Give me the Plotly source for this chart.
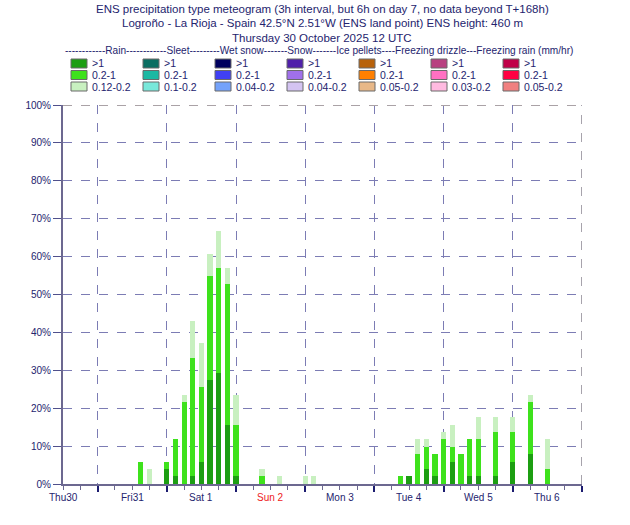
import numpy as np
import plotly.graph_objects as go

# ---------------- data ----------------
# hours since Thursday 30 October 2025 12 UTC (valid time of each bar)
hours = [27, 30, 36, 39, 42, 45, 48, 51, 54, 57, 60, 69, 75, 84, 87,
         117, 120, 123, 126, 129, 132, 135, 138, 141, 144, 150, 156, 162, 168]
# cumulative probability (%) of rain rate > 1, > 0.2 and > 0.12 mm/hr
rain_gt1 = [0, 0, 3.9, 2.0, 0, 2.0, 5.9, 27.5, 29.4, 15.7, 2.0, 0, 0, 0, 0,
            0, 2.0, 0, 3.9, 2.0, 0, 5.9, 0, 2.0, 2.0, 2.0, 5.9, 7.8, 0]
rain_gt02 = [5.9, 0, 5.9, 11.8, 21.6, 33.3, 25.5, 54.9, 56.9, 52.9, 15.7, 2.0, 0, 0, 0,
             2.0, 2.0, 7.8, 9.8, 7.8, 11.8, 9.8, 7.8, 11.8, 11.8, 13.7, 13.7, 21.6, 3.9]
rain_gt012 = [5.9, 3.9, 5.9, 11.8, 23.5, 43.1, 37.3, 60.8, 66.7, 56.9, 23.5, 3.9, 2.0, 2.0, 2.0,
              2.0, 2.0, 11.8, 11.8, 7.8, 13.7, 15.7, 7.8, 11.8, 17.6, 17.6, 17.6, 23.5, 11.8]

day_labels = ["Thu30", "Fri31", "Sat 1", "Sun 2", "Mon 3", "Tue 4", "Wed 5", "Thu 6"]
day_label_hours = [0, 24, 48, 72, 96, 120, 144, 168]
day_boundaries = [12, 36, 60, 84, 108, 132, 156, 180]
y_ticks = [0, 10, 20, 30, 40, 50, 60, 70, 80, 90, 100]
y_tick_labels = ["0%", "10%", "20%", "30%", "40%", "50%", "60%", "70%", "80%", "90%", "100%"]

legend_types = ["Rain", "Sleet", "Wet snow", "Snow", "Ice pellets", "Freezing drizzle", "Freezing rain"]
legend_ranges = [[">1", "0.2-1", "0.12-0.2"],
                 [">1", "0.2-1", "0.1-0.2"],
                 [">1", "0.2-1", "0.04-0.2"],
                 [">1", "0.2-1", "0.04-0.2"],
                 [">1", "0.2-1", "0.05-0.2"],
                 [">1", "0.2-1", "0.03-0.2"],
                 [">1", "0.2-1", "0.05-0.2"]]
legend_colors = [["#1c9e12", "#3ee21c", "#c8f0c0"],
                 ["#0a6e62", "#1cb8a2", "#78e8da"],
                 ["#00005e", "#4040f4", "#74a2fa"],
                 ["#5020aa", "#a070ea", "#d4c4f2"],
                 ["#b8620a", "#ff8000", "#e8b888"],
                 ["#b84080", "#ff70c2", "#ffbae0"],
                 ["#c00048", "#ff0042", "#f08080"]]
header = ("------------Rain------------Sleet---------Wet snow-------Snow-------Ice pellets"
          "----Freezing drizzle---Freezing rain (mm/hr)")
titles = ["ENS precipitation type meteogram (3h interval, but 6h on day 7, no data beyond T+168h)",
          "Logroño - La Rioja - Spain 42.5°N 2.51°W (ENS land point) ENS height: 460 m",
          "Thursday 30 October 2025 12 UTC"]

# ---------------- layout geometry ----------------
W, H = 630, 525
ML, MR, MT, MB = 63, 48, 105, 41
PW, PH = W - ML - MR, H - MT - MB
NAVY = "#24246e"
GRID = "#7c7cb4"
AXIS = "#6c6890"
FONT = "Liberation Sans, Arial, sans-serif"


def px(x):
    return (x - ML) / PW


def py(y):
    return (H - MB - y) / PH


g1 = np.array(rain_gt1)
g2 = np.array(rain_gt02)
g3 = np.array(rain_gt012)

fig = go.Figure()
bw = 1.8
fig.add_bar(x=hours, y=g1, width=bw, marker=dict(color=legend_colors[0][0], line=dict(width=0)))
fig.add_bar(x=hours, y=g2 - g1, width=bw, marker=dict(color=legend_colors[0][1], line=dict(width=0)))
fig.add_bar(x=hours, y=g3 - g2, width=bw, marker=dict(color=legend_colors[0][2], line=dict(width=0)))

shapes = []
annotations = []

# frame top and right (dashed grey)
shapes.append(dict(type="line", xref="x", yref="y", x0=0, x1=180, y0=100, y1=100,
                   line=dict(color="#aaa2a6", width=2, dash="dash"), layer="above"))
shapes.append(dict(type="line", xref="x", yref="y", x0=180, x1=180, y0=0, y1=100,
                   line=dict(color="#8a8490", width=1.5, dash="dash"), layer="above"))

# day labels
for h, lab in zip(day_label_hours, day_labels):
    annotations.append(dict(x=h, y=py(497), xref="x", yref="paper", text=lab, showarrow=False,
                            font=dict(size=10, color="#ee2222" if lab.startswith("Sun") else NAVY, family=FONT),
                            xanchor="center", yanchor="middle"))

# titles
title_y = [9, 23, 38]
for t, ty in zip(titles, title_y):
    annotations.append(dict(x=px(322), y=py(ty), xref="paper", yref="paper", text=t,
                            showarrow=False, xanchor="center", yanchor="middle",
                            font=dict(size=11.5, color=NAVY, family=FONT)))
annotations.append(dict(x=px(319), y=py(51), xref="paper", yref="paper", text=header,
                        showarrow=False, xanchor="center", yanchor="middle",
                        font=dict(size=10.1, color=NAVY, family=FONT)))

# legend swatches
col_x = [71 + 72 * i for i in range(7)]
row_y = [59, 70.5, 82]
for ci in range(7):
    for ri in range(3):
        x0 = col_x[ci]
        y0 = row_y[ri]
        shapes.append(dict(type="rect", xref="paper", yref="paper",
                           x0=px(x0), x1=px(x0 + 16), y0=py(y0 + 9), y1=py(y0),
                           fillcolor=legend_colors[ci][ri], line=dict(color="#6a6a6a", width=1)))
        annotations.append(dict(x=px(x0 + 19), y=py(y0 + 4.5), xref="paper", yref="paper",
                                text=legend_ranges[ci][ri], showarrow=False,
                                xanchor="left", yanchor="middle",
                                font=dict(size=10.5, color=NAVY, family=FONT)))

fig.update_layout(
    width=W, height=H,
    margin=dict(l=ML, r=MR, t=MT, b=MB, pad=0),
    paper_bgcolor="white", plot_bgcolor="white",
    barmode="stack", bargap=0, showlegend=False,
    shapes=shapes, annotations=annotations,
    xaxis=dict(range=[0, 180], tickmode="array", tickvals=day_boundaries,
               ticktext=[""] * len(day_boundaries), ticks="outside", ticklen=6,
               tickcolor="#1c1c70", tickwidth=1.5,
               showgrid=True, gridcolor=GRID, griddash="dash", gridwidth=1,
               showline=True, linecolor=AXIS, linewidth=2, zeroline=False,
               minor=dict(tickmode="linear", tick0=0, dtick=6, ticks="outside", ticklen=4,
                          tickcolor=AXIS, tickwidth=1, showgrid=False),
               fixedrange=True),
    yaxis=dict(range=[0, 100], tickmode="array", tickvals=y_ticks, ticktext=y_tick_labels,
               ticks="outside", ticklen=8, tickcolor="#50508c", tickwidth=1,
               showgrid=True, gridcolor=GRID, griddash="dash", gridwidth=1,
               showline=True, linecolor=AXIS, linewidth=2, zeroline=False,
               tickfont=dict(size=10, color=NAVY, family=FONT), fixedrange=True),
    font=dict(family=FONT, color=NAVY),
)

fig.write_html("out.html")
